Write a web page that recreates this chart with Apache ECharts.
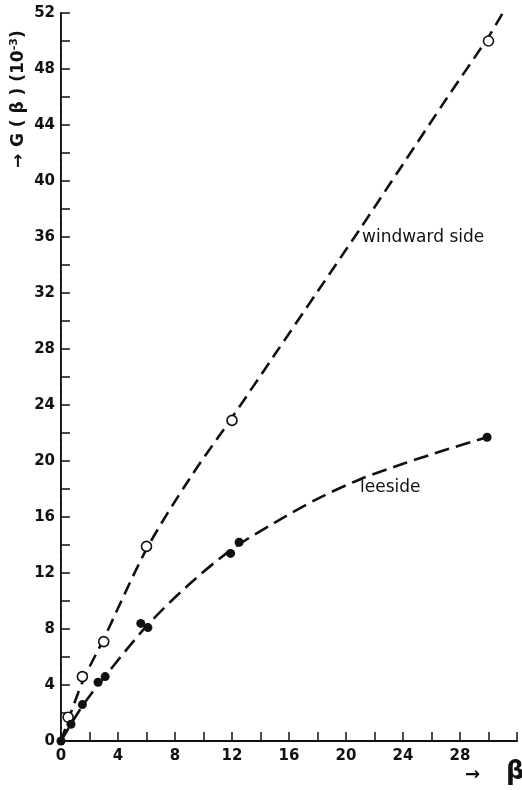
<!DOCTYPE html>
<html>
<head>
<meta charset="utf-8">
<script src="https://cdn.jsdelivr.net/npm/echarts@6/dist/echarts.min.js"></script>
<style>
  html, body { margin: 0; padding: 0; background: #fff; }
  #chart { width: 522px; height: 790px; }
</style>
</head>
<body>
<div id="chart"></div>
<script>
// Measured points, windward side (open circles)
const windBeta = [0.5, 1.5, 3, 6, 12, 30];
const windG    = [1.7, 4.6, 7.1, 13.9, 22.9, 50.0];

// Measured points, leeside (filled circles)
const leeBeta = [0, 0.7, 1.5, 2.6, 3.1, 5.6, 6.1, 11.9, 12.5, 29.9];
const leeG    = [0, 1.2, 2.6, 4.2, 4.6, 8.4, 8.1, 13.4, 14.2, 21.7];

// Hand-drawn fitted curves (dashed)
const windCurveBeta = [0, 1.5, 3, 6, 9, 12, 15, 18, 21, 24, 27, 30, 31];
const windCurveG    = [0, 4.2, 7.3, 13.7, 18.7, 23.1, 27.6, 32.1, 36.6, 41.2, 45.8, 50.3, 52];
const leeCurveBeta  = [0, 1.5, 3, 6, 9, 12, 15, 18, 21, 24, 27, 29.9];
const leeCurveG     = [0, 2.5, 4.5, 8.2, 11.2, 13.7, 15.6, 17.3, 18.7, 19.8, 20.8, 21.7];

// Axis ranges and tick steps
const betaMin = 0, betaMax = 32, betaStep = 4;
const gMin = 0, gMax = 52, gStep = 4;

// Curve annotations
const windLabel = 'windward side';
const leeLabel = 'leeside';

const pairs = (xs, ys) => xs.map((x, i) => [x, ys[i]]);

const ink = '#111';
const tickFont = { fontFamily: 'DejaVu Sans', fontWeight: 'bold', fontSize: 15, color: ink };

const chart = echarts.init(document.getElementById('chart'), null, { renderer: 'canvas' });

chart.setOption({
  backgroundColor: '#fff',
  animation: false,
  grid: { left: 61, right: 5, top: 13, bottom: 49, containLabel: false },
  xAxis: [
    {
      type: 'value', min: betaMin, max: betaMax, interval: betaStep,
      axisLine: { lineStyle: { color: ink, width: 2 } },
      axisTick: { inside: true, length: 9, lineStyle: { color: ink, width: 1.5 } },
      minorTick: { show: true, splitNumber: 2, length: 9, lineStyle: { color: ink, width: 1.5 } },
      axisLabel: Object.assign({ margin: 8, showMaxLabel: false }, tickFont),
      splitLine: { show: false }
    },
    {
      type: 'value', position: 'top', min: betaMin, max: betaMax,
      axisLine: { show: true, lineStyle: { color: ink, width: 1.5 } },
      axisTick: { show: false }, axisLabel: { show: false }, splitLine: { show: false }
    }
  ],
  yAxis: [
    {
      type: 'value', min: gMin, max: gMax, interval: gStep,
      axisLine: { show: true, lineStyle: { color: ink, width: 2 } },
      axisTick: { inside: true, length: 9, lineStyle: { color: ink, width: 1.5 } },
      minorTick: { show: true, splitNumber: 2, length: 9, lineStyle: { color: ink, width: 1.5 } },
      axisLabel: Object.assign({ margin: 6 }, tickFont),
      splitLine: { show: false }
    },
    {
      type: 'value', position: 'right', min: gMin, max: gMax,
      axisLine: { show: true, lineStyle: { color: '#333', width: 1, type: [5, 2] } },
      axisTick: { show: false }, axisLabel: { show: false }, splitLine: { show: false }
    }
  ],
  series: [
    {
      name: 'windward curve', type: 'line', smooth: 0.3, symbol: 'none',
      data: pairs(windCurveBeta, windCurveG),
      lineStyle: { color: ink, width: 2.6, type: [13, 7] },
      z: 2
    },
    {
      name: 'leeside curve', type: 'line', smooth: 0.3, symbol: 'none',
      data: pairs(leeCurveBeta, leeCurveG),
      lineStyle: { color: ink, width: 2.6, type: [15, 7] },
      z: 2
    },
    {
      name: 'windward', type: 'scatter', symbol: 'circle', symbolSize: 10,
      data: pairs(windBeta, windG),
      itemStyle: { color: '#fff', borderColor: ink, borderWidth: 1.6, opacity: 1 },
      z: 4
    },
    {
      name: 'leeside', type: 'scatter', symbol: 'circle', symbolSize: 9,
      data: pairs(leeBeta, leeG),
      itemStyle: { color: ink, opacity: 1 },
      z: 4
    }
  ],
  graphic: [
    {
      type: 'text', left: 362, top: 229, z: 10,
      style: { text: windLabel, font: '17px "DejaVu Sans"', fill: ink }
    },
    {
      type: 'text', left: 360, top: 479, z: 10,
      style: { text: leeLabel, font: '17px "DejaVu Sans"', fill: ink }
    },
    {
      type: 'text', x: 9, y: 168, rotation: Math.PI / 2, z: 10,
      style: {
        text: '{a|→}  {b|G ( β ) (10}{s|-3}{b|)}',
        fill: ink,
        rich: {
          a: { font: 'bold 17px "DejaVu Sans"', fill: ink },
          b: { font: 'bold 17px "DejaVu Sans"', fill: ink },
          s: { font: 'bold 11px "DejaVu Sans"', fill: ink, verticalAlign: 'top', padding: [0, 0, 9, 0] }
        }
      }
    },
    {
      type: 'text', left: 465, top: 766, z: 10,
      style: { text: '→', font: 'bold 18px "DejaVu Sans"', fill: ink }
    },
    {
      type: 'text', left: 506, top: 759, z: 10,
      style: { text: 'β', font: 'bold 26px "DejaVu Sans"', fill: ink }
    }
  ]
});
</script>
</body>
</html>
